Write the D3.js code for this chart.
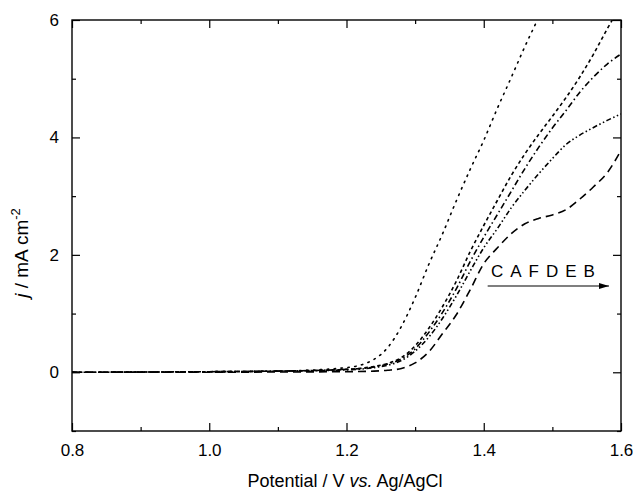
<!DOCTYPE html>
<html>
<head>
<meta charset="utf-8">
<script src="https://cdn.jsdelivr.net/npm/d3@7"></script>
<style>
  html, body { margin: 0; padding: 0; background: #fff; }
  svg { display: block; font-family: "Liberation Sans", Arial, sans-serif; }
</style>
</head>
<body>
<svg id="chart" width="633" height="492"></svg>
<script>
// ---- data ----
const potential = [0.80, 1.00, 1.10, 1.20, 1.24, 1.26, 1.28, 1.30, 1.32, 1.34, 1.36, 1.38, 1.40, 1.42, 1.44, 1.46, 1.48, 1.50, 1.52, 1.54, 1.56, 1.58, 1.60];
const seriesC = [0.00, 0.01, 0.02, 0.08, 0.22, 0.42, 0.78, 1.27, 1.84, 2.36, 2.92, 3.45, 3.95, 4.50, 5.02, 5.55, 6.05, 6.6, 7.1, 7.6, 8.1, 8.6, 9.1];
const seriesA = [0.00, 0.01, 0.02, 0.05, 0.10, 0.15, 0.25, 0.45, 0.75, 1.12, 1.55, 2.05, 2.50, 2.93, 3.35, 3.72, 4.05, 4.36, 4.68, 5.03, 5.42, 5.85, 6.25];
const seriesF = [0.00, 0.01, 0.02, 0.05, 0.09, 0.14, 0.23, 0.40, 0.68, 1.02, 1.42, 1.88, 2.30, 2.69, 3.08, 3.47, 3.83, 4.16, 4.46, 4.77, 5.03, 5.25, 5.42];
const seriesD = [0.00, 0.01, 0.02, 0.04, 0.08, 0.12, 0.20, 0.36, 0.60, 0.92, 1.30, 1.72, 2.12, 2.45, 2.80, 3.10, 3.38, 3.64, 3.88, 4.04, 4.17, 4.29, 4.40];
const seriesB = [0.00, 0.00, 0.005, 0.01, 0.02, 0.035, 0.065, 0.16, 0.35, 0.66, 0.98, 1.40, 1.85, 2.12, 2.36, 2.53, 2.62, 2.68, 2.77, 2.95, 3.16, 3.40, 3.78];
const seriesNames = ["C", "A", "F", "D", "B"];
const xTicks = [0.8, 1.0, 1.2, 1.4, 1.6];
const xMinorTicks = [0.9, 1.1, 1.3, 1.5];
const yTicks = [0, 2, 4, 6];
const yMinorTicks = [-1, 1, 3, 5];
const orderLabel = "CAFDEB";

// ---- layout ----
const svg = d3.select("#chart");
const L = 72, R = 621, T = 20, B = 431;
const x = d3.scaleLinear().domain([0.8, 1.6]).range([L, R]);
const y = d3.scaleLinear().domain([-1, 6]).range([B, T]);

const styles = {
  C: "1.4 5.5",
  A: "3.5 3",
  F: "6 3 1.5 3",
  D: "5 2.5 1.5 2.5 1.5 2.5",
  B: "8 5"
};
const dataMap = { C: seriesC, A: seriesA, F: seriesF, D: seriesD, B: seriesB };

svg.append("clipPath").attr("id", "clip")
  .append("rect").attr("x", L).attr("y", T).attr("width", R - L).attr("height", B - T);

const line = d3.line().x(d => x(d[0])).y(d => y(d[1])).curve(d3.curveMonotoneX);
const g = svg.append("g").attr("clip-path", "url(#clip)");
seriesNames.forEach(name => {
  const pts = potential.map((p, i) => [p, dataMap[name][i]]);
  g.append("path").datum(pts)
    .attr("d", line)
    .attr("fill", "none")
    .attr("stroke", "#000")
    .attr("stroke-width", 1.6)
    .attr("stroke-linecap", name === "C" ? "round" : "butt")
    .attr("stroke-dasharray", styles[name]);
});

// ---- axes (ticks inward, mirrored) ----
const tickStyle = sel => {
  sel.select(".domain").remove();
  sel.selectAll("line").attr("stroke", "#000").attr("stroke-width", 1.2);
  sel.selectAll("text").attr("font-size", 17).attr("fill", "#000");
};
svg.append("g").attr("transform", `translate(0,${B})`)
  .call(d3.axisBottom(x).tickValues(xTicks).tickFormat(d3.format(".1f")).tickSizeInner(-8).tickPadding(13))
  .call(tickStyle);
svg.append("g").attr("transform", `translate(0,${B})`)
  .call(d3.axisBottom(x).tickValues(xMinorTicks).tickFormat("").tickSizeInner(-4))
  .call(tickStyle);
svg.append("g").attr("transform", `translate(0,${T})`)
  .call(d3.axisTop(x).tickValues(xTicks).tickFormat("").tickSizeInner(-8))
  .call(tickStyle);
svg.append("g").attr("transform", `translate(0,${T})`)
  .call(d3.axisTop(x).tickValues(xMinorTicks).tickFormat("").tickSizeInner(-4))
  .call(tickStyle);
svg.append("g").attr("transform", `translate(${L},0)`)
  .call(d3.axisLeft(y).tickValues(yTicks).tickFormat(d3.format("d")).tickSizeInner(-8).tickPadding(13))
  .call(tickStyle);
svg.append("g").attr("transform", `translate(${L},0)`)
  .call(d3.axisLeft(y).tickValues(yMinorTicks).tickFormat("").tickSizeInner(-4))
  .call(tickStyle);
svg.append("g").attr("transform", `translate(${R},0)`)
  .call(d3.axisRight(y).tickValues(yTicks).tickFormat("").tickSizeInner(-8))
  .call(tickStyle);
svg.append("g").attr("transform", `translate(${R},0)`)
  .call(d3.axisRight(y).tickValues(yMinorTicks).tickFormat("").tickSizeInner(-4))
  .call(tickStyle);

// frame
svg.append("rect").attr("x", L).attr("y", T).attr("width", R - L).attr("height", B - T)
  .attr("fill", "none").attr("stroke", "#000").attr("stroke-width", 1.4);

// ---- axis titles ----
const xt = svg.append("text").attr("x", 345).attr("y", 487)
  .attr("text-anchor", "middle").attr("font-size", 18).attr("fill", "#000");
xt.append("tspan").text("Potential / V ");
xt.append("tspan").attr("font-style", "italic").text("vs.");
xt.append("tspan").text(" Ag/AgCl");

const yt = svg.append("text").attr("transform", "translate(28,253) rotate(-90)")
  .attr("text-anchor", "middle").attr("font-size", 19).attr("fill", "#000");
yt.append("tspan").attr("font-style", "italic").text("j");
yt.append("tspan").text(" / mA cm");
yt.append("tspan").attr("font-size", 13).attr("dy", -8).text("-2");

// ---- annotation ----
svg.append("text").attr("x", x(1.4105)).attr("y", 277)
  .attr("font-size", 17).attr("letter-spacing", 7).attr("fill", "#000")
  .text(orderLabel);
svg.append("defs").append("marker").attr("id", "arr")
  .attr("viewBox", "0 0 10 6").attr("refX", 10).attr("refY", 3)
  .attr("markerWidth", 11).attr("markerHeight", 6).attr("markerUnits", "userSpaceOnUse")
  .attr("orient", "auto")
  .append("path").attr("d", "M0,0 L10,3 L0,6 Z").attr("fill", "#000");
svg.append("line").attr("x1", x(1.4057)).attr("x2", x(1.5825)).attr("y1", 286).attr("y2", 286)
  .attr("stroke", "#000").attr("stroke-width", 1.2).attr("marker-end", "url(#arr)");
</script>
</body>
</html>
